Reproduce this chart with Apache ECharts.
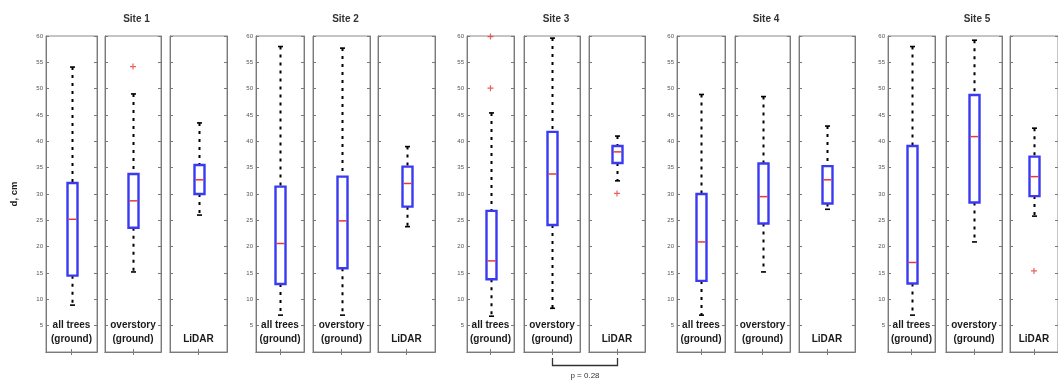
<!DOCTYPE html>
<html><head><meta charset="utf-8">
<script src="https://cdn.jsdelivr.net/npm/echarts@6/dist/echarts.min.js"></script>
<style>html,body{margin:0;padding:0;background:#fff}#c{width:1058px;height:381px}</style>
</head><body><div id="c"></div>
<script>
// ---------- data ----------
const sites = ['Site 1', 'Site 2', 'Site 3', 'Site 4', 'Site 5'];
const groups = ['all trees\n(ground)', 'overstory\n(ground)', 'LiDAR'];
const yMin = 0, yMax = 60, yStep = 5;
const yName = 'd, cm';
// each box: [lower whisker, Q1, median, Q3, upper whisker]
const site1 = [[8.9, 14.5, 25.2, 32.1, 54.1], [15.2, 23.6, 28.7, 33.8, 49.0], [26.0, 30.0, 32.7, 35.5, 43.5]];
const site2 = [[7.0, 12.9, 20.6, 31.4, 58.0], [7.0, 15.9, 24.9, 33.3, 57.7], [23.8, 27.6, 32.0, 35.2, 39.0]];
const site3 = [[6.8, 13.8, 17.3, 26.8, 45.4], [8.3, 24.1, 33.8, 41.8, 59.6], [32.5, 35.9, 38.0, 39.1, 41.0]];
const site4 = [[7.0, 13.5, 20.9, 30.0, 48.9], [15.2, 24.4, 29.5, 35.8, 48.5], [27.1, 28.2, 32.7, 35.3, 42.9]];
const site5 = [[7.0, 13.0, 17.0, 39.1, 58.0], [20.9, 28.4, 40.9, 48.8, 59.2], [25.8, 29.6, 33.3, 37.1, 42.5]];
const outliers1 = [[], [54.2], []];
const outliers2 = [[], [], []];
const outliers3 = [[59.9, 50.1], [], [30.1]];
const outliers4 = [[], [], []];
const outliers5 = [[], [], [15.4]];
const pLabel = 'p = 0.28';

// ---------- layout ----------
const boxes = [site1, site2, site3, site4, site5];
const outs = [outliers1, outliers2, outliers3, outliers4, outliers5];
const panelX = [
  [[46, 97], [105, 161], [170, 227]],
  [[256, 304], [313, 370], [378, 435]],
  [[467, 514], [524, 580], [589, 645]],
  [[677, 725], [735, 790], [799, 855]],
  [[888, 935], [946, 1002], [1010, 1066]]
];
const TOP = 36, BOTTOM = 29;
const FONT = '"Liberation Sans", Arial, sans-serif';
const BLUE = '#3a3af2', RED = '#e83a32';

const plusPath = 'path://M4,0H6V4H10V6H6V10H4V6H0V4H4Z';

function renderBox(params, api) {
  const x = api.value(0);
  const lo = api.coord([x, api.value(1)]);
  const q1 = api.coord([x, api.value(2)]);
  const md = api.coord([x, api.value(3)]);
  const q3 = api.coord([x, api.value(4)]);
  const hi = api.coord([x, api.value(5)]);
  const cx = Math.round(lo[0]) + 0.5;
  const bw = 10, cw = 5;
  const dash = { stroke: '#000', lineWidth: 2, lineDash: [3, 5] };
  const solid = { stroke: '#000', lineWidth: 1.6 };
  return { type: 'group', children: [
    { type: 'line', shape: { x1: cx, y1: hi[1], x2: cx, y2: q3[1] }, style: dash },
    { type: 'line', shape: { x1: cx, y1: q1[1], x2: cx, y2: lo[1] }, style: dash },
    { type: 'line', shape: { x1: cx - cw / 2, y1: hi[1], x2: cx + cw / 2, y2: hi[1] }, style: solid },
    { type: 'line', shape: { x1: cx - cw / 2, y1: lo[1], x2: cx + cw / 2, y2: lo[1] }, style: solid },
    { type: 'rect', shape: { x: cx - bw / 2, y: q3[1], width: bw, height: q1[1] - q3[1] }, style: { fill: '#fff', stroke: BLUE, lineWidth: 2.4 } },
    { type: 'line', shape: { x1: cx - bw / 2 + 1, y1: md[1], x2: cx + bw / 2 - 1, y2: md[1] }, style: { stroke: RED, lineWidth: 1.5 } }
  ]};
}

const grid = [], xAxis = [], yAxis = [], series = [];
let g = 0;
for (let s = 0; s < 5; s++) {
  for (let j = 0; j < 3; j++) {
    const [l, r] = panelX[s][j];
    grid.push({ left: l, top: TOP, width: r - l, bottom: BOTTOM, show: true, borderColor: '#8a8a8a', borderWidth: 1, backgroundColor: '#fff' });
    const axLine = { show: true, lineStyle: { color: '#7a7a7a', width: 1 } };
    xAxis.push({
      type: 'category', gridIndex: g, position: 'bottom', data: [groups[j]],
      axisLine: axLine,
      axisTick: { show: true, inside: true, alignWithLabel: true, length: 3, lineStyle: { color: '#7a7a7a' } },
      axisLabel: { inside: true, margin: 6, fontSize: 10, lineHeight: 14, color: '#1a1a1a', fontWeight: 'bold', fontFamily: FONT },
      splitLine: { show: false }
    });
    xAxis.push({
      type: 'category', gridIndex: g, position: 'top', data: [groups[j]],
      axisLine: axLine,
      axisTick: { show: true, inside: true, alignWithLabel: true, length: 3, lineStyle: { color: '#7a7a7a' } },
      axisLabel: { show: false }, splitLine: { show: false }
    });
    const yBase = {
      type: 'value', gridIndex: g, min: yMin, max: yMax, interval: yStep,
      axisLine: axLine,
      axisTick: { show: true, inside: true, length: 3, lineStyle: { color: '#7a7a7a' } },
      splitLine: { show: false }
    };
    const yl = Object.assign({}, yBase, {
      position: 'left',
      axisLabel: { show: j === 0, fontSize: 6, color: '#555', margin: 3, showMinLabel: false, fontFamily: FONT }
    });
    if (g === 0) {
      Object.assign(yl, { name: yName, nameLocation: 'middle', nameRotate: 90, nameGap: 27,
        nameTextStyle: { fontSize: 9.5, fontWeight: 'bold', color: '#222', fontFamily: FONT } });
    }
    yAxis.push(yl);
    yAxis.push(Object.assign({}, yBase, { position: 'right', axisLabel: { show: false } }));

    const b = boxes[s][j];
    series.push({
      type: 'custom', xAxisIndex: 2 * g, yAxisIndex: 2 * g,
      renderItem: renderBox, clip: false,
      encode: { x: 0, y: [1, 2, 3, 4, 5] },
      data: [[0, b[0], b[1], b[2], b[3], b[4]]]
    });
    if (outs[s][j].length) {
      series.push({
        type: 'scatter', xAxisIndex: 2 * g, yAxisIndex: 2 * g,
        symbol: plusPath, symbolSize: 6, itemStyle: { color: RED },
        data: outs[s][j].map(v => [0, v])
      });
    }
    g++;
  }
}

const chart = echarts.init(document.getElementById('c'), null, { renderer: 'canvas' });
chart.setOption({ animation: false, backgroundColor: '#fff', grid, xAxis, yAxis, series });

// titles and bracket derived from the rendered scales
const graphic = [];
for (let s = 0; s < 5; s++) {
  const a = chart.convertToPixel({ gridIndex: s * 3 }, [0, yMax]);
  const l = panelX[s][0][0], r = panelX[s][2][1];
  graphic.push({ type: 'text', x: (l + r) / 2, y: a[1] - 17,
    style: { text: sites[s], fontSize: 10, fontWeight: 'bold', fill: '#333', align: 'center', verticalAlign: 'middle', fontFamily: FONT } });
}
const p1 = chart.convertToPixel({ gridIndex: 7 }, [0, yMin]);
const p2 = chart.convertToPixel({ gridIndex: 8 }, [0, yMin]);
const x1 = Math.round(p1[0]) + 0.5, x2 = Math.round(p2[0]) + 0.5, yb = Math.round(p1[1]);
graphic.push({ type: 'polyline', shape: { points: [[x1, yb + 6], [x1, yb + 13.5], [x2, yb + 13.5], [x2, yb + 6]] },
  style: { stroke: '#333', lineWidth: 1.3, fill: null } });
graphic.push({ type: 'text', x: (x1 + x2) / 2, y: yb + 24,
  style: { text: pLabel, fontSize: 8, fill: '#333', align: 'center', verticalAlign: 'middle', fontFamily: FONT } });
chart.setOption({ graphic });
</script>
</body></html>
